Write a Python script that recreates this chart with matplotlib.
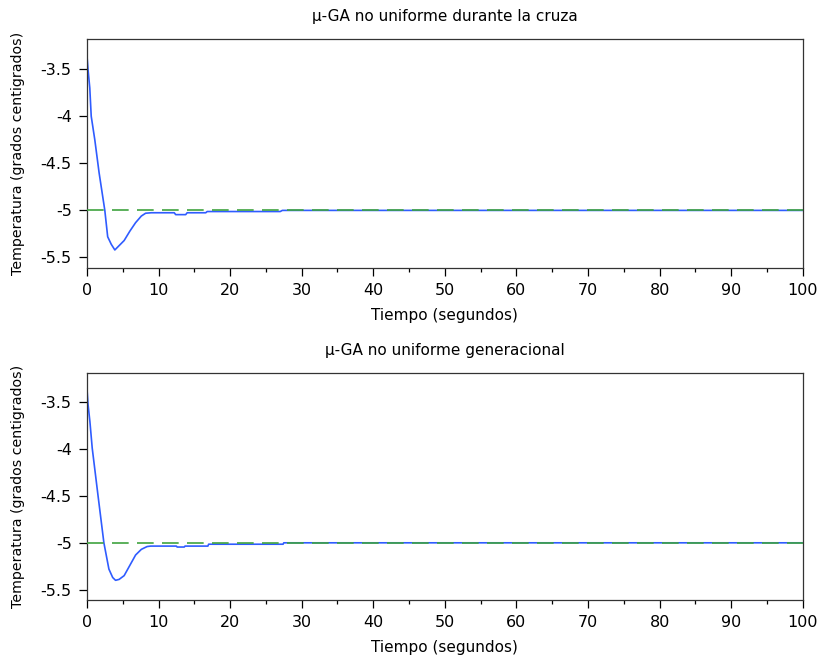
import matplotlib
matplotlib.use("Agg")
import matplotlib.pyplot as plt
from matplotlib.ticker import MultipleLocator

# ---------- Data ----------
# Top panel: crossover-phase non-uniform mutation
t_cruza = [0, 0.15, 0.4, 0.6, 1.1, 1.7, 2.5, 2.9, 3.4, 3.9, 5.2, 6.0, 6.8,
           7.6, 8.2, 9.0, 12.2, 12.4, 13.8, 14.0, 16.6, 16.8, 27.0, 27.3, 100]
temp_cruza = [-3.35, -3.50, -3.70, -4.00, -4.25, -4.60, -5.00, -5.28, -5.36,
              -5.42, -5.32, -5.22, -5.13, -5.06, -5.03, -5.025, -5.025,
              -5.045, -5.045, -5.025, -5.025, -5.012, -5.012, -5.0, -5.0]

# Bottom panel: generational non-uniform mutation
t_gen = [0, 0.15, 0.42, 0.74, 1.54, 2.37, 3.07, 3.6, 4.0, 4.5, 5.2, 6.0,
         6.8, 7.6, 8.4, 8.9, 12.5, 12.6, 13.6, 13.7, 16.9, 17.0, 27.4, 27.5, 100]
temp_gen = [-3.35, -3.52, -3.71, -3.99, -4.49, -5.00, -5.28, -5.37, -5.40,
            -5.39, -5.35, -5.24, -5.13, -5.07, -5.04, -5.035, -5.035,
            -5.045, -5.045, -5.035, -5.035, -5.015, -5.015, -5.0, -5.0]

# Setpoint
t_ref = [0, 100]
temp_ref = [-5.0, -5.0]

titles = ["\u03bc-GA no uniforme durante la cruza",
          "\u03bc-GA no uniforme generacional"]
y_ticks = [-3.5, -4, -4.5, -5, -5.5]
y_ticklabels = ["-3.5", "-4", "-4.5", "-5", "-5.5"]

BLUE = "#2f5cff"
GREEN = "#3fa33f"

plt.rcParams["font.family"] = ["DejaVu Sans"]
plt.rcParams["font.size"] = 11
plt.rcParams["axes.unicode_minus"] = False

fig = plt.figure(figsize=(8.2, 6.63), dpi=100)
ax_top = fig.add_axes([0.106, 0.596, 0.873, 0.3445])
ax_bot = fig.add_axes([0.106, 0.095, 0.873, 0.343])

panels = [(ax_top, t_cruza, temp_cruza), (ax_bot, t_gen, temp_gen)]
for (ax, t, temp), title in zip(panels, titles):
    ax.plot(t, temp, color=BLUE, lw=1.2, zorder=2)
    ax.plot(t_ref, temp_ref, color=GREEN, lw=1.2, dashes=(10, 5), zorder=3)
    ax.set_xlim(0, 100)
    ax.set_ylim(-5.61, -3.185)
    ax.xaxis.set_major_locator(MultipleLocator(10))
    ax.xaxis.set_minor_locator(MultipleLocator(5))
    ax.set_yticks(y_ticks)
    ax.set_yticklabels(y_ticklabels, fontsize=11.5)
    ax.tick_params(axis="x", labelsize=11.5)
    ax.tick_params(which="major", direction="out", length=6, width=0.9,
                   pad=5, top=False, right=False)
    ax.tick_params(which="minor", direction="out", length=3, width=0.9,
                   top=False, right=False)
    for sp in ax.spines.values():
        sp.set_linewidth(0.9)
        sp.set_color("#333333")
    ax.set_title(title, fontsize=11, pad=13)
    ax.set_xlabel("Tiempo (segundos)", labelpad=7)
    ax.set_ylabel("Temperatura (grados centigrados)", fontsize=10.2,
                  labelpad=11)

fig.savefig("out.png", dpi=100)
